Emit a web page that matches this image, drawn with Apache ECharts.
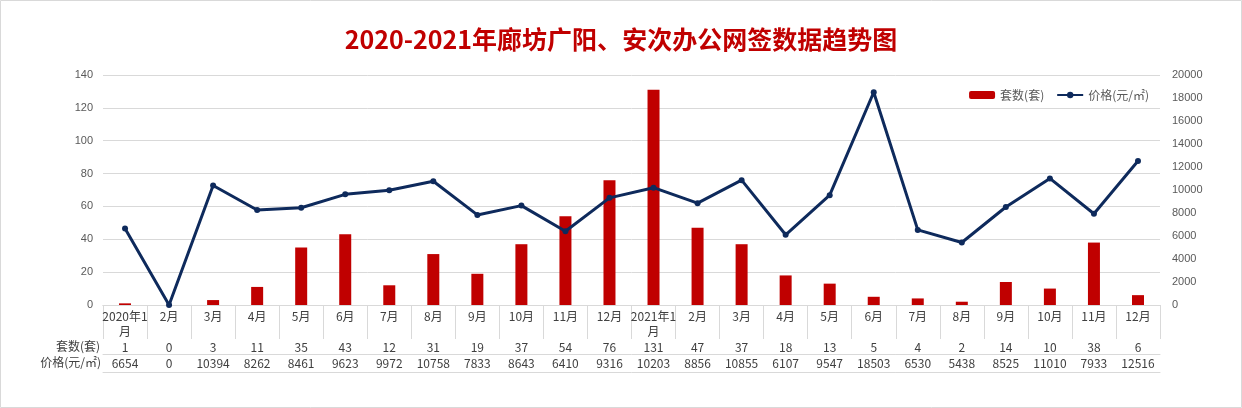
<!DOCTYPE html>
<html><head><meta charset="utf-8">
<script src="https://cdn.jsdelivr.net/npm/echarts@6/dist/echarts.min.js"></script>
<style>html,body{margin:0;padding:0;background:#fff}#c{width:1242px;height:408px}</style>
</head><body><div id="c"></div>
<script>
const categories=['2020年1月','2月','3月','4月','5月','6月','7月','8月','9月','10月','11月','12月','2021年1月','2月','3月','4月','5月','6月','7月','8月','9月','10月','11月','12月'];
const counts=[1,0,3,11,35,43,12,31,19,37,54,76,131,47,37,18,13,5,4,2,14,10,38,6];
const prices=[6654,0,10394,8262,8461,9623,9972,10758,7833,8643,6410,9316,10203,8856,10855,6107,9547,18503,6530,5438,8525,11010,7933,12516];
const leftTicks={min:0,max:140,interval:20};
const rightTicks={min:0,max:20000,interval:2000};
const F='"Microsoft YaHei","Noto Sans CJK SC",sans-serif';
const chart=echarts.init(document.getElementById('c'));
const gl={lineStyle:{color:'#d9d9d9',width:1}};
const tableAxis=(data,offset,tick,showLabel)=>({type:'category',data:data,position:'bottom',offset:offset,
  axisLine:{show:true,lineStyle:{color:'#d9d9d9'}},
  axisTick:{show:tick>0,length:tick,interval:0,lineStyle:{color:'#d9d9d9'}},
  axisLabel:{show:showLabel,interval:0,color:'#404040',fontSize:12,fontFamily:F,margin:3}});
chart.setOption({
  title:{text:'2020-2021年廊坊广阳、安次办公网签数据趋势图',left:'center',top:22,
    textStyle:{color:'#C00000',fontSize:25,fontWeight:'bold',fontFamily:F}},
  legend:{top:84,right:88,itemGap:12,itemWidth:26,itemHeight:8,textStyle:{color:'#595959',fontSize:12,fontFamily:F},
    data:['套数(套)','价格(元/㎡)']},
  grid:{left:103,right:82,top:75,bottom:103},
  xAxis:[
    {type:'category',data:categories,axisLine:{lineStyle:{color:'#d9d9d9'}},
     axisTick:{length:33,interval:0,lineStyle:{color:'#d9d9d9'}},
     axisLabel:{interval:0,color:'#404040',fontSize:12,fontFamily:F,margin:4,lineHeight:15,
       formatter:v=>v.length>4?v.slice(0,6)+'\n'+v.slice(6):v}},
    tableAxis(counts,33,34,true),
    tableAxis(prices,49,0,true),
    tableAxis(counts,67,0,false)
  ],
  yAxis:[
    {type:'value',min:leftTicks.min,max:leftTicks.max,interval:leftTicks.interval,
     axisLine:{show:false},axisTick:{show:false},splitLine:gl,
     axisLabel:{color:'#595959',fontSize:11,margin:10}},
    {type:'value',min:rightTicks.min,max:rightTicks.max,interval:rightTicks.interval,
     axisLine:{show:false},axisTick:{show:false},splitLine:{show:false},
     axisLabel:{color:'#595959',fontSize:11,margin:12,formatter:v=>String(v)}}
  ],
  graphic:[
    {type:'rect',shape:{x:0.5,y:0.5,width:1241,height:407},style:{fill:'none',stroke:'#d9d9d9'}},
    {type:'text',right:1242-100,top:340,style:{text:'套数(套)',fill:'#404040',font:'12px '+F}},
    {type:'text',right:1242-101,top:356,style:{text:'价格(元/㎡)',fill:'#404040',font:'12px '+F}}
  ],
  series:[
    {name:'套数(套)',type:'bar',data:counts,barWidth:12,itemStyle:{color:'#C00000'}},
    {name:'价格(元/㎡)',type:'line',yAxisIndex:1,data:prices,symbol:'circle',symbolSize:6,
     lineStyle:{color:'#0E2A5C',width:3},itemStyle:{color:'#0E2A5C'}}
  ]
});
</script></body></html>
